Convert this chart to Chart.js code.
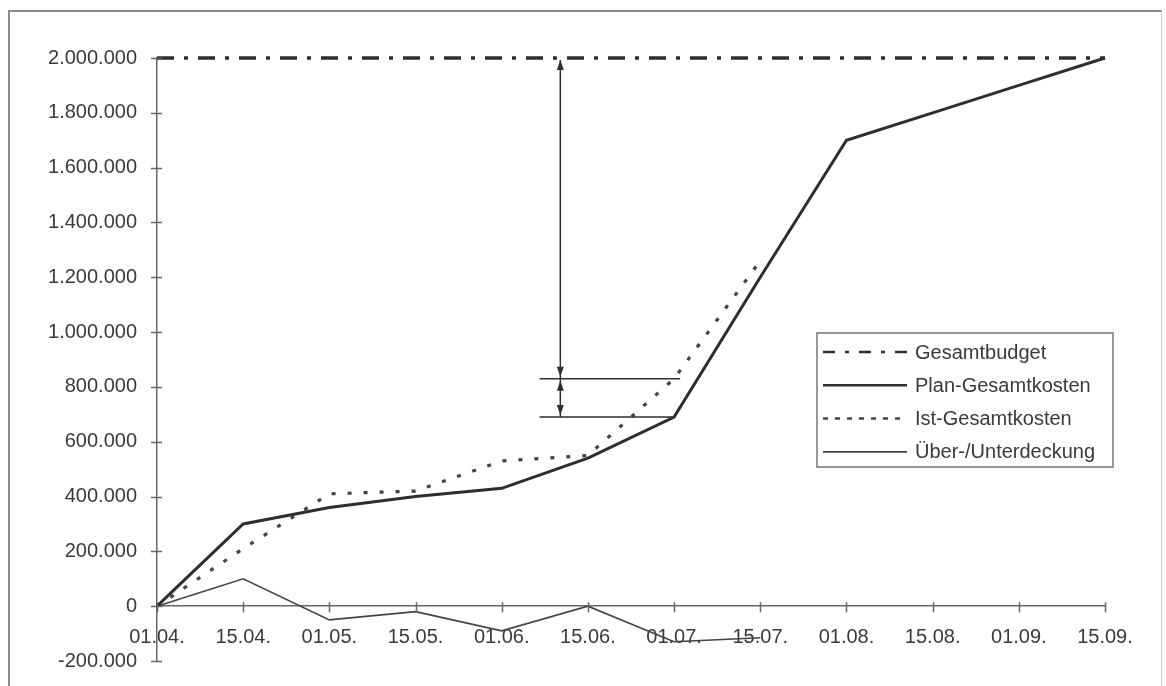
<!DOCTYPE html>
<html><head><meta charset="utf-8">
<script src="https://cdn.jsdelivr.net/npm/chart.js@4"></script>
<style>
html,body{margin:0;padding:0;background:#fff;width:1166px;height:686px;overflow:hidden}
#frame{position:absolute;left:8px;top:10px;width:1154px;height:720px;border:2px solid #8c8c8c;border-right:1px solid #d0d0d0;box-sizing:border-box}
#c{position:absolute;left:0;top:0}
</style></head><body>
<div id="frame"></div>
<canvas id="c" width="1166" height="693"></canvas>
<script>
const labels = ['01.04.','15.04.','01.05.','15.05.','01.06.','15.06.','01.07.','15.07.','01.08.','15.08.','01.09.','15.09.'];
const gesamtbudget = [2000000,2000000,2000000,2000000,2000000,2000000,2000000,2000000,2000000,2000000,2000000,2000000];
const planKosten = [0,300000,360000,400000,430000,540000,690000,1200000,1700000,1800000,1900000,2000000];
const istKosten = [0,210000,410000,420000,530000,550000,830000,1260000,null,null,null,null];
const deckung = [0,100000,-50000,-20000,-90000,0,-130000,-115000,null,null,null,null];
const seriesNames = ['Gesamtbudget','Plan-Gesamtkosten','Ist-Gesamtkosten','Über-/Unterdeckung'];
const yMin = -200000, yMax = 2000000, yStep = 200000;
// annotation (category index positions and reference category)
const annotVertical = 4.68, annotStart = 4.44, annotRefIndex = 6;

const INK = '#2e2e2e';
const TXT = '#3a3a3a';
const FONT = 'Liberation Sans, Arial, sans-serif';

function fmt(v){
  const s = String(Math.abs(v)).replace(/\B(?=(\d{3})+(?!\d))/g,'.');
  return (v<0?'-':'') + s;
}

const crossTicks = {
  id:'crossTicks',
  afterDraw(chart){
    const {ctx, scales:{x,y}} = chart;
    ctx.save();
    ctx.strokeStyle = '#666'; ctx.lineWidth = 1.5;
    const y0 = y.getPixelForValue(0);
    ctx.beginPath();
    y.ticks.forEach(t=>{
      const py = Math.round(y.getPixelForValue(t.value))+0.5;
      ctx.moveTo(x.left-6, py); ctx.lineTo(x.left+5, py);
    });
    x.ticks.forEach((t,i)=>{
      const px = Math.round(x.getPixelForValue(i))+0.5;
      ctx.moveTo(px, y0-4); ctx.lineTo(px, y0+6);
    });
    ctx.stroke();
    ctx.restore();
  }
};

function arrowHead(ctx, x, tipY, dir){
  ctx.beginPath();
  ctx.moveTo(x, tipY);
  ctx.lineTo(x-3.5, tipY - dir*10);
  ctx.lineTo(x+3.5, tipY - dir*10);
  ctx.closePath();
  ctx.fill();
}

const annotation = {
  id:'annotation',
  afterDatasetsDraw(chart){
    const {ctx, scales:{x,y}} = chart;
    const vx = x.getPixelForValue(annotVertical);
    const sx = x.getPixelForValue(annotStart);
    const yTop = y.getPixelForValue(gesamtbudget[annotRefIndex]);
    const yMid = y.getPixelForValue(istKosten[annotRefIndex]);
    const yLow = y.getPixelForValue(planKosten[annotRefIndex]);
    const exMid = x.getPixelForValue(annotRefIndex + 0.07);
    const exLow = x.getPixelForValue(annotRefIndex - 0.02);
    ctx.save();
    ctx.strokeStyle = INK; ctx.fillStyle = INK; ctx.lineWidth = 1.5;
    ctx.beginPath();
    ctx.moveTo(vx, yTop+2); ctx.lineTo(vx, yLow);
    ctx.moveTo(sx, yMid); ctx.lineTo(exMid, yMid);
    ctx.moveTo(sx, yLow); ctx.lineTo(exLow, yLow);
    ctx.stroke();
    arrowHead(ctx, vx, yTop+2, -1);
    arrowHead(ctx, vx, yMid-2, 1);
    arrowHead(ctx, vx, yMid+2, -1);
    arrowHead(ctx, vx, yLow-2, 1);
    ctx.restore();
  }
};

const boxLegend = {
  id:'boxLegend',
  afterDraw(chart){
    const {ctx} = chart;
    const L = 817, T = 333, W = 296, H = 134;
    ctx.save();
    ctx.fillStyle = '#fff';
    ctx.fillRect(L, T, W, H);
    ctx.strokeStyle = '#777'; ctx.lineWidth = 1.5;
    ctx.strokeRect(L, T, W, H);
    ctx.font = '20px ' + FONT;
    ctx.textBaseline = 'middle';
    ctx.fillStyle = TXT;
    chart.data.datasets.forEach((ds, i)=>{
      const cy = T + 19 + i*33.3;
      ctx.save();
      ctx.strokeStyle = ds.borderColor;
      ctx.lineWidth = Math.min(ds.borderWidth, 2.5);
      ctx.setLineDash(ds.legendDash || ds.borderDash || []);
      ctx.beginPath(); ctx.moveTo(L+6, cy); ctx.lineTo(L+90, cy); ctx.stroke();
      ctx.restore();
      ctx.fillText(ds.label, L+98, cy+1);
    });
    ctx.restore();
  }
};

new Chart(document.getElementById('c'), {
  type:'line',
  data:{
    labels: labels,
    datasets:[
      {label:seriesNames[0], data:gesamtbudget, borderColor:INK, borderWidth:3.5, borderDash:[17,10,4,10], legendDash:[12,10,4,10], pointRadius:0, clip:false, tension:0},
      {label:seriesNames[1], data:planKosten, borderColor:INK, borderWidth:3, pointRadius:0, clip:false, tension:0},
      {label:seriesNames[2], data:istKosten, borderColor:'#444', borderWidth:3.2, borderDash:[4,12], legendDash:[5,7], pointRadius:0, clip:false, tension:0, spanGaps:false},
      {label:seriesNames[3], data:deckung, borderColor:'#444', borderWidth:1.6, pointRadius:0, clip:false, tension:0}
    ]
  },
  options:{
    responsive:false,
    animation:false,
    layout:{padding:{left:0, top:58, right:61, bottom:0}},
    plugins:{legend:{display:false}, tooltip:{enabled:false}},
    scales:{
      x:{
        type:'category',
        offset:false,
        position:{y:0},
        grid:{display:true, drawOnChartArea:false, drawTicks:false},
        border:{display:true, color:'#666', width:1.5},
        ticks:{color:TXT, font:{family:FONT, size:20}, padding:19, maxRotation:0, autoSkip:false}
      },
      y:{
        type:'linear',
        min:yMin, max:yMax,
        grid:{display:true, drawOnChartArea:false, drawTicks:false},
        border:{display:true, color:'#666', width:1.5},
        ticks:{stepSize:yStep, color:TXT, font:{family:FONT, size:20}, padding:20, callback:(v)=>fmt(v)},
        afterFit:(s)=>{ s.width = 157; }
      }
    }
  },
  plugins:[crossTicks, annotation, boxLegend]
});
</script>
</body></html>
